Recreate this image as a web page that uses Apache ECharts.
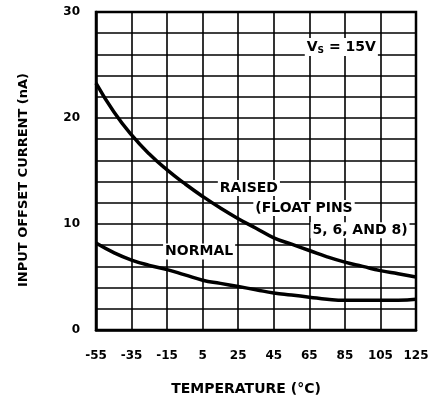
<!DOCTYPE html>
<html>
<head>
<meta charset="utf-8">
<script src="https://cdn.jsdelivr.net/npm/echarts@6/dist/echarts.min.js"></script>
<style>
html,body{margin:0;padding:0;background:#fff;}
#c{width:433px;height:402px;}
</style>
</head>
<body>
<div id="c"></div>
<script>
// Data
const temps = [-55, -45, -35, -25, -15, -5, 5, 15, 25, 35, 45, 55, 65, 75, 85, 95, 105, 115, 125];
const raised = [23.3, 20.6, 18.4, 16.6, 15.1, 13.8, 12.6, 11.5, 10.5, 9.6, 8.7, 8.1, 7.5, 6.9, 6.4, 6.0, 5.6, 5.3, 5.0];
const normal = [8.2, 7.3, 6.6, 6.1, 5.7, 5.2, 4.7, 4.4, 4.1, 3.8, 3.5, 3.3, 3.1, 2.9, 2.8, 2.8, 2.8, 2.8, 2.9];
const xTicks = [-55, -35, -15, 5, 25, 45, 65, 85, 105, 125];
const yTicks = [0, 10, 20, 30];
const xTitle = 'TEMPERATURE (°C)';
const yTitle = 'INPUT OFFSET CURRENT (nA)';
// annotations: [temperature, value, text]
const notes = [
  [31, 13.4, 'RAISED'],
  [62, 11.5, '(FLOAT PINS'],
  [93.5, 9.4, '5, 6, AND 8)'],
  [3, 7.4, 'NORMAL'],
  [83, 26.7, '{v|V}{s|S}{v| = 15V}']
];

const X0 = -55; // axis origin offset so ticks start from 0
const shift = t => t - X0;
const font = 'DejaVu Sans';

const chart = echarts.init(document.getElementById('c'), null, {renderer: 'canvas'});
const mk = (arr) => temps.map((t, i) => [shift(t), arr[i]]);

chart.setOption({
  animation: false,
  backgroundColor: '#fff',
  grid: {left: 96, right: 17, top: 12, bottom: 72, show: true, borderColor: '#000', borderWidth: 2.5},
  xAxis: {
    type: 'value', min: 0, max: 180, interval: 20,
    axisLine: {show: true, lineStyle: {color: '#000', width: 2.5}},
    axisTick: {show: false},
    splitLine: {show: true, lineStyle: {color: '#000', width: 1.6}},
    axisLabel: {
      color: '#000', fontFamily: font, fontWeight: 'bold', fontSize: 12, margin: 20,
      formatter: v => { const t = v + X0; return xTicks.includes(t) ? String(t) : ''; }
    },
    name: xTitle, nameLocation: 'middle', nameGap: 52,
    nameTextStyle: {color: '#000', fontFamily: font, fontWeight: 'bold', fontSize: 14, padding: [0, 20, 0, 0]}
  },
  yAxis: {
    type: 'value', min: 0, max: 30, interval: 2,
    axisLine: {show: true, lineStyle: {color: '#000', width: 2.5}},
    axisTick: {show: false},
    splitLine: {show: true, lineStyle: {color: '#000', width: 1.6}},
    axisLabel: {
      color: '#000', fontFamily: font, fontWeight: 'bold', fontSize: 12, margin: 16,
      formatter: v => yTicks.includes(v) ? String(v) : ''
    },
    name: yTitle, nameLocation: 'middle', nameGap: 66, nameRotate: 90,
    nameTextStyle: {color: '#000', fontFamily: font, fontWeight: 'bold', fontSize: 13, padding: [0, 18, 0, 0]}
  },
  series: [
    {
      type: 'line', data: mk(raised), smooth: true, symbol: 'none',
      lineStyle: {color: '#000', width: 3.5}, z: 5
    },
    {
      type: 'line', data: mk(normal), smooth: true, symbol: 'none',
      lineStyle: {color: '#000', width: 3.5}, z: 5,
      markPoint: {
        symbol: 'circle', symbolSize: 0, silent: true,
        label: {
          show: true, position: 'inside', color: '#000', backgroundColor: '#fff',
          fontFamily: font, fontWeight: 'bold', fontSize: 14, padding: [1, 2],
          formatter: p => p.name,
          rich: {
            v: {color: '#000', fontFamily: font, fontWeight: 'bold', fontSize: 14},
            s: {color: '#000', fontFamily: font, fontWeight: 'bold', fontSize: 9, verticalAlign: 'bottom', padding: [7, 0, 0, 0]}
          }
        },
        data: notes.map(n => ({coord: [shift(n[0]), n[1]], name: n[2]}))
      }
    }
  ]
});
</script>
</body>
</html>
